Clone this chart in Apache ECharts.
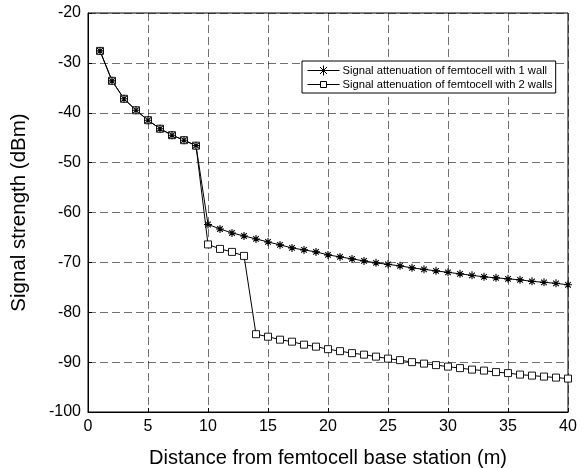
<!DOCTYPE html>
<html>
<head>
<meta charset="utf-8">
<script src="https://cdn.jsdelivr.net/npm/echarts@6/dist/echarts.min.js"></script>
<style>
  html, body { margin: 0; padding: 0; background: #fff; }
  #chart { width: 583px; height: 468px; }
</style>
</head>
<body>
<div id="chart"></div>
<script>
// distance (m)
var distance = [];
for (var d = 1; d <= 40; d++) distance.push(d);

var oneWall = [
  -27.6, -33.6, -37.2, -39.5, -41.5, -43.2, -44.5, -45.5, -46.6,
  -62.4, -63.3, -64.1, -64.7, -65.3, -65.9, -66.5, -67.1, -67.5, -67.9, -68.5,
  -68.9, -69.3, -69.7, -70.1, -70.4, -70.7, -71.1, -71.4, -71.7, -72.0,
  -72.3, -72.6, -72.9, -73.1, -73.3, -73.5, -73.8, -74.0, -74.2, -74.5
];
var twoWalls = [
  -27.6, -33.6, -37.2, -39.5, -41.5, -43.2, -44.5, -45.5, -46.6,
  -66.4, -67.3, -67.9, -68.7, -84.4, -84.9, -85.5, -85.9, -86.5, -86.9, -87.4,
  -87.8, -88.2, -88.5, -88.9, -89.3, -89.6, -90.0, -90.3, -90.6, -90.9,
  -91.2, -91.5, -91.7, -92.0, -92.2, -92.5, -92.7, -92.9, -93.1, -93.3
];
var seriesNames = [
  "Signal attenuation of femtocell with 1 wall",
  "Signal attenuation of femtocell with 2 walls"
];

var font = "Liberation Sans, Arial, Helvetica, sans-serif";
// asterisk marker, drawn as strokes
var star = "path://M0 5 L10 5 M5 0 L5 10 M1.5 1.5 L8.5 8.5 M8.5 1.5 L1.5 8.5";
// legend icons: short line through the marker
var starIcon = "path://M0 5 L32 5 M11 5 L21 5 M16 0 L16 10 M12.5 1.5 L19.5 8.5 M19.5 1.5 L12.5 8.5";
var rectIcon = "path://M0 5 L13 5 M19 5 L32 5 M13 2 L19 2 L19 8 L13 8 Z";

function pairs(vals) {
  return vals.map(function (v, i) { return [distance[i], v]; });
}

var chart = echarts.init(document.getElementById("chart"));
var gridLine = { show: true, lineStyle: { color: "#000", type: [8, 4], width: 0.8, opacity: 0.7 } };

chart.setOption({
  animation: false,
  backgroundColor: "#fff",
  textStyle: { fontFamily: font },
  grid: {
    left: 88, right: 15, top: 13, bottom: 56,
    outerBoundsMode: "none",
    containLabel: false,
    show: true, borderColor: "#000", borderWidth: 1
  },
  legend: {
    left: 302, top: 61,
    orient: "vertical",
    data: [
      { name: seriesNames[0], icon: starIcon },
      { name: seriesNames[1], icon: rectIcon }
    ],
    backgroundColor: "#fff",
    borderColor: "#000", borderWidth: 1,
    padding: [2, 3, 2, 3],
    itemGap: 0,
    itemWidth: 32, itemHeight: 10,
    itemStyle: { color: "none", borderColor: "#000", borderWidth: 1 },
    textStyle: { fontSize: 11.2, color: "#000", fontFamily: font, lineHeight: 13, padding: [0, 0, 0, -2] }
  },
  xAxis: {
    type: "value",
    min: 0, max: 40, interval: 5,
    name: "Distance from femtocell base station (m)",
    nameLocation: "middle",
    nameGap: 36,
    nameTextStyle: { fontSize: 20, color: "#000" },
    axisLine: { lineStyle: { color: "#000" } },
    axisTick: { inside: true, length: 4, lineStyle: { color: "#000" } },
    axisLabel: { fontSize: 16, color: "#000", margin: 7 },
    splitLine: gridLine
  },
  yAxis: {
    type: "value",
    min: -100, max: -20, interval: 10,
    name: "Signal strength (dBm)",
    nameLocation: "middle",
    nameGap: 58,
    nameTextStyle: { fontSize: 20.5, color: "#000" },
    axisLine: { show: true, lineStyle: { color: "#000" } },
    axisTick: { show: true, inside: true, length: 4, lineStyle: { color: "#000" } },
    axisLabel: { fontSize: 16, color: "#000", margin: 7 },
    splitLine: gridLine
  },
  series: [
    {
      name: seriesNames[1],
      type: "line",
      data: pairs(twoWalls),
      symbol: "rect",
      symbolSize: 7,
      lineStyle: { color: "#000", width: 1 },
      itemStyle: { color: "#fff", borderColor: "#000", borderWidth: 0.9 }
    },
    {
      name: seriesNames[0],
      type: "line",
      data: pairs(oneWall),
      symbol: star,
      symbolSize: 8,
      lineStyle: { color: "#000", width: 1 },
      itemStyle: { color: "#000", borderColor: "#000", borderWidth: 1.1 }
    }
  ]
});
</script>
</body>
</html>
